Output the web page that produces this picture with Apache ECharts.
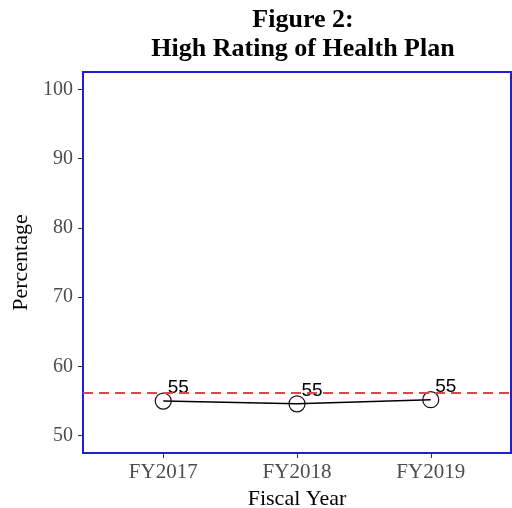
<!DOCTYPE html>
<html>
<head>
<meta charset="utf-8">
<script src="https://cdn.jsdelivr.net/npm/echarts@6/dist/echarts.min.js"></script>
<style>
html,body{margin:0;padding:0;background:#fff;}
#chart{width:512px;height:508px;}
</style>
</head>
<body>
<div id="chart"></div>
<script>
var categories = ['FY2017', 'FY2018', 'FY2019'];
var values = [55.0, 54.6, 55.2];
var benchmark = [56.2];
var yTicks = [50, 60, 70, 80, 90, 100];

var serif = '"Liberation Serif","Times New Roman",serif';
var seriesData = categories.map(function (c, i) { return [i + 1, values[i]]; });

var chart = echarts.init(document.getElementById('chart'), null, {renderer: 'canvas'});
chart.setOption({
  backgroundColor: '#ffffff',
  animation: false,
  title: {
    text: 'Figure 2:\nHigh Rating of Health Plan',
    left: 298,
    textAlign: 'center',
    top: 1,
    textStyle: {
      fontFamily: serif,
      fontWeight: 'bold',
      fontSize: 26,
      lineHeight: 29,
      color: '#000'
    }
  },
  grid: {
    left: 83, right: 1, top: 72, bottom: 55,
    containLabel: false,
    outerBoundsMode: 'none',
    show: true,
    borderColor: '#1f1fd6',
    borderWidth: 2,
    backgroundColor: '#ffffff'
  },
  xAxis: {
    type: 'value',
    min: 0.4,
    max: 3.6,
    name: 'Fiscal Year',
    nameLocation: 'middle',
    nameGap: 32,
    nameTextStyle: {fontFamily: serif, fontSize: 22, color: '#000'},
    axisLine: {show: false},
    splitLine: {show: false},
    axisTick: {show: true, length: 5, customValues: [1, 2, 3], lineStyle: {color: '#333', width: 1}},
    axisLabel: {
      customValues: [1, 2, 3],
      margin: 9,
      fontFamily: serif, fontSize: 21, color: '#4d4d4d',
      formatter: function (v) { return categories[Math.round(v) - 1] || ''; }
    }
  },
  yAxis: {
    type: 'value',
    min: 47.5,
    max: 102.5,
    name: 'Percentage',
    nameLocation: 'middle',
    nameGap: 47,
    nameRotate: 90,
    nameTextStyle: {fontFamily: serif, fontSize: 22, color: '#000'},
    axisLine: {show: false},
    splitLine: {show: false},
    axisTick: {show: true, length: 5, customValues: yTicks, lineStyle: {color: '#333', width: 1}},
    axisLabel: {
      customValues: yTicks,
      margin: 10,
      fontFamily: serif, fontSize: 20, color: '#4d4d4d'
    }
  },
  series: [{
    type: 'line',
    data: seriesData,
    symbol: 'circle',
    symbolSize: 16,
    lineStyle: {color: '#000', width: 1.5},
    itemStyle: {color: 'rgba(0,0,0,0)', borderColor: '#111', borderWidth: 1.2},
    label: {
      show: true,
      position: 'top',
      distance: 0,
      offset: [15, 5],
      fontFamily: '"Liberation Sans", Arial, sans-serif',
      fontSize: 19,
      color: '#000',
      formatter: function (p) { return Math.round(p.value[1]); }
    },
    markLine: {
      silent: true,
      symbol: ['none', 'none'],
      label: {show: false},
      lineStyle: {color: '#e4434a', type: [10, 6], width: 2},
      data: [{yAxis: benchmark[0]}]
    },
    z: 3
  }]
});
</script>
</body>
</html>
